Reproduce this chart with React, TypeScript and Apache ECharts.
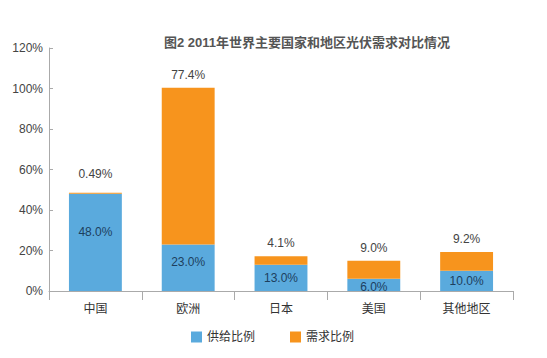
import React, { useEffect, useRef } from "react";
import * as echarts from "echarts";

const categories = ["中国", "欧洲", "日本", "美国", "其他地区"];
const supply = [48.0, 23.0, 13.0, 6.0, 10.0];
const demand = [0.49, 77.4, 4.1, 9.0, 9.2];
const supplyLabelOffsets = [-10, -6, 0, 2, 0];
const demandLabelOffsets = [-6, 0, 0, 0, 0];
const seriesNames = ["供给比例", "需求比例"];

export default function App() {
  const ref = useRef<HTMLDivElement>(null);
  useEffect(() => {
    document.body.style.margin = "0";
    const chart = echarts.init(ref.current!, undefined, { renderer: "svg" });
    const font = "Helvetica, Arial, 'Liberation Sans', 'Noto Sans CJK SC', sans-serif";
    chart.setOption({
      animation: false,
      textStyle: { fontFamily: font },
      title: {
        text: "图2 2011年世界主要国家和地区光伏需求对比情况",
        left: 302,
        textAlign: "center",
        top: 31,
        textStyle: { fontSize: 13, fontWeight: "bold", color: "#555", fontFamily: font },
      },
      legend: {
        bottom: 10,
        left: 186,
        itemWidth: 11,
        itemHeight: 11,
        itemGap: 35,
        icon: "rect",
        textStyle: { fontSize: 12, color: "#333", fontFamily: font },
        data: seriesNames,
      },
      grid: { left: 49, right: 34, top: 48, bottom: 67 },
      xAxis: {
        type: "category",
        data: categories,
        axisLine: { lineStyle: { color: "#aaa" } },
        axisTick: { show: true, length: 9, lineStyle: { color: "#aaa" } },
        axisLabel: { fontSize: 12, color: "#333", margin: 12 },
      },
      yAxis: {
        type: "value",
        min: 0,
        max: 120,
        interval: 20,
        axisLine: { show: true, lineStyle: { color: "#aaa" } },
        axisTick: { show: true, inside: true, length: 4, lineStyle: { color: "#aaa" } },
        splitLine: { show: false },
        axisLabel: { fontSize: 12, color: "#444", margin: 6, formatter: "{value}%" },
      },
      series: [
        {
          name: seriesNames[0],
          type: "bar",
          stack: "total",
          barWidth: "57%",
          itemStyle: { color: "#5aaadd" },
          data: supply.map((v, i) => ({
            value: v,
            label: { offset: [0, supplyLabelOffsets[i]] },
          })),
          label: {
            show: true,
            position: "inside",
            fontSize: 12,
            color: "#1d3f5e",
            formatter: (p: any) => p.value.toFixed(1) + "%",
          },
        },
        {
          name: seriesNames[1],
          type: "bar",
          stack: "total",
          barWidth: "57%",
          itemStyle: { color: "#f7941d" },
          data: demand.map((v, i) => ({
            value: v,
            label: { offset: [0, demandLabelOffsets[i]] },
          })),
          label: {
            show: true,
            position: "top",
            distance: 7,
            fontSize: 12,
            color: "#444",
            formatter: (p: any) => (p.value < 1 ? p.value.toFixed(2) : p.value.toFixed(1)) + "%",
          },
        },
      ],
    });
    return () => chart.dispose();
  }, []);
  return <div ref={ref} style={{ width: 547, height: 358 }} />;
}
